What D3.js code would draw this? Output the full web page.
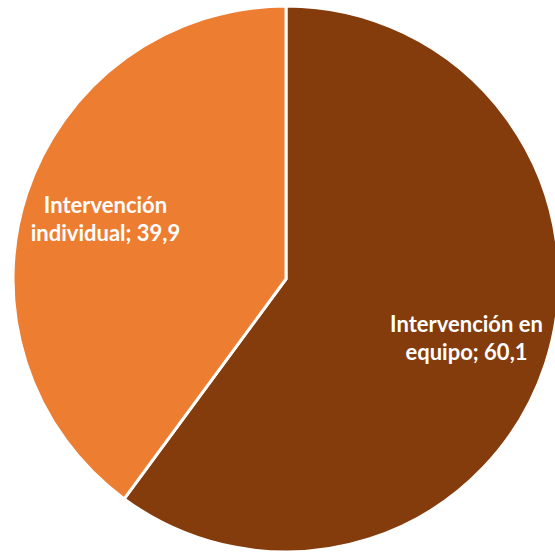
<!DOCTYPE html>
<html><head><meta charset="utf-8">
<script src="https://cdn.jsdelivr.net/npm/d3@7/dist/d3.min.js"></script>
<style>html,body{margin:0;padding:0;background:#fff;overflow:hidden}</style>
</head><body>
<svg id="chart" width="555" height="553"></svg>
<script>
const categories = ["Intervención en equipo", "Intervención individual"];
const values = [60.1, 39.9];
const labelLines = [["Intervención en", "equipo; 60,1"], ["Intervención", "individual; 39,9"]];
const colors = ["#843C0C", "#ED7D31"];

const svg = d3.select("#chart");
const cx = 286, cy = 279, r = 273;
const g = svg.append("g").attr("transform", `translate(${cx},${cy})`);

const pie = d3.pie().sort(null).value(d => d.v);
const data = pie(categories.map((c, i) => ({c, v: values[i], i})));
const arc = d3.arc().innerRadius(0).outerRadius(r);
const labelArc = d3.arc().innerRadius(190).outerRadius(190);

g.selectAll("path").data(data).enter().append("path")
  .attr("d", arc)
  .attr("fill", d => colors[d.data.i])
  .attr("stroke", "#fff").attr("stroke-width", 3).attr("stroke-linejoin", "miter");

const fs = 22, lh = 28;
data.forEach(d => {
  const [x, y] = labelArc.centroid(d);
  const lines = labelLines[d.data.i];
  const t = g.append("text")
    .attr("text-anchor", "middle")
    .attr("font-family", "Lato, 'Open Sans', sans-serif")
    .attr("font-weight", "bold")
    .attr("font-size", fs)
    .attr("fill", "#fff");
  lines.forEach((ln, k) => {
    t.append("tspan").attr("x", x).attr("y", y - 6.5 + k * lh).text(ln);
  });
});
</script>
</body></html>
